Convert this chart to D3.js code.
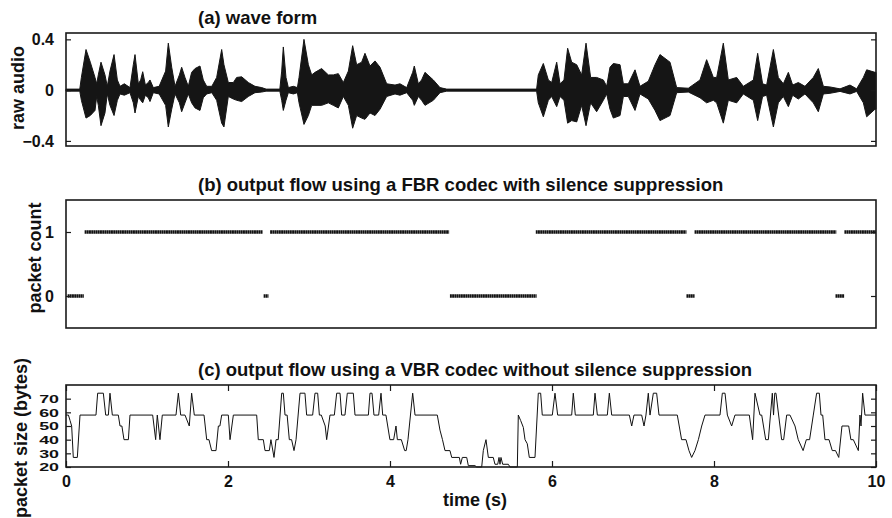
<!DOCTYPE html>
<html>
<head>
<meta charset="utf-8">
<script src="https://cdn.jsdelivr.net/npm/d3@7"></script>
<style>
    body { margin: 0; background: #fff; }
    svg { display: block; font-family: "Liberation Sans", Arial, sans-serif; font-weight: bold; }
</style>
</head>
<body>
<script>
// (a) envelope of the raw audio wave form
const waveTime = [0, 0.17, 0.19, 0.247, 0.30, 0.358, 0.379, 0.399, 0.432, 0.481, 0.51, 0.543, 0.593, 0.634, 0.667, 0.72, 0.79, 0.831, 0.852, 0.893, 0.922, 0.947, 0.98, 1.016, 1.037, 1.078, 1.15, 1.23, 1.263, 1.305, 1.346, 1.40, 1.428, 1.469, 1.51, 1.551, 1.593, 1.654, 1.695, 1.737, 1.80, 1.86, 1.922, 1.95, 2.004, 2.066, 2.107, 2.169, 2.251, 2.333, 2.416, 2.47, 2.64, 2.663, 2.683, 2.716, 2.745, 2.807, 2.857, 2.877, 2.938, 2.992, 3.033, 3.074, 3.156, 3.239, 3.30, 3.362, 3.424, 3.486, 3.539, 3.588, 3.65, 3.691, 3.753, 3.815, 3.877, 3.959, 4.062, 4.123, 4.206, 4.28, 4.30, 4.35, 4.39, 4.432, 4.535, 4.617, 4.70, 5.81, 5.831, 5.893, 5.955, 5.996, 6.058, 6.099, 6.148, 6.193, 6.243, 6.305, 6.366, 6.42, 6.477, 6.551, 6.634, 6.675, 6.716, 6.757, 6.84, 6.881, 6.942, 7.025, 7.086, 7.189, 7.272, 7.333, 7.457, 7.539, 7.683, 7.827, 7.909, 7.992, 8.033, 8.115, 8.177, 8.28, 8.362, 8.486, 8.539, 8.60, 8.65, 8.733, 8.794, 8.856, 8.918, 8.971, 9.041, 9.123, 9.226, 9.288, 9.35, 9.432, 9.556, 9.679, 9.761, 9.844, 9.885, 9.988, 10];
const waveHigh = [0.008, 0.008, 0.10, 0.32, 0.22, 0.10, 0.05, 0.12, 0.22, 0.12, 0.03, 0.15, 0.28, 0.08, 0.03, 0.05, 0.02, 0.20, 0.28, 0.05, 0.08, 0.145, 0.04, 0.06, 0.08, 0.02, 0.03, 0.15, 0.37, 0.18, 0.03, 0.12, 0.18, 0.10, 0.03, 0.14, 0.17, 0.19, 0.08, 0.03, 0.03, 0.10, 0.32, 0.20, 0.06, 0.06, 0.10, 0.105, 0.06, 0.03, 0.02, 0.008, 0.008, 0.15, 0.34, 0.10, 0.02, 0.03, 0.02, 0.10, 0.40, 0.20, 0.12, 0.14, 0.17, 0.12, 0.12, 0.13, 0.06, 0.15, 0.35, 0.20, 0.22, 0.29, 0.19, 0.23, 0.18, 0.05, 0.04, 0.05, 0.02, 0.14, 0.19, 0.05, 0.08, 0.14, 0.08, 0.02, 0.008, 0.008, 0.12, 0.21, 0.08, 0.06, 0.22, 0.05, 0.08, 0.33, 0.22, 0.20, 0.12, 0.37, 0.10, 0.10, 0.08, 0.03, 0.18, 0.21, 0.20, 0.05, 0.05, 0.16, 0.03, 0.07, 0.20, 0.28, 0.22, 0.02, 0.015, 0.08, 0.24, 0.10, 0.10, 0.37, 0.08, 0.10, 0.03, 0.08, 0.29, 0.05, 0.04, 0.32, 0.10, 0.05, 0.14, 0.04, 0.06, 0.03, 0.10, 0.17, 0.03, 0.025, 0.01, 0.04, 0.01, 0.10, 0.16, 0.14, 0.14];
const waveLow = [-0.008, -0.008, -0.08, -0.22, -0.20, -0.16, -0.05, -0.12, -0.28, -0.18, -0.03, -0.12, -0.20, -0.08, -0.03, -0.04, -0.02, -0.10, -0.18, -0.05, -0.08, -0.10, -0.04, -0.06, -0.09, -0.02, -0.03, -0.12, -0.29, -0.15, -0.03, -0.10, -0.17, -0.10, -0.03, -0.10, -0.14, -0.16, -0.06, -0.03, -0.02, -0.08, -0.26, -0.29, -0.05, -0.07, -0.08, -0.09, -0.05, -0.02, -0.015, -0.008, -0.008, -0.08, -0.16, -0.08, -0.02, -0.03, -0.02, -0.10, -0.27, -0.20, -0.12, -0.12, -0.12, -0.10, -0.12, -0.14, -0.05, -0.12, -0.30, -0.20, -0.22, -0.23, -0.18, -0.20, -0.15, -0.05, -0.03, -0.04, -0.02, -0.08, -0.12, -0.05, -0.08, -0.12, -0.08, -0.02, -0.008, -0.008, -0.10, -0.21, -0.08, -0.05, -0.13, -0.05, -0.08, -0.26, -0.24, -0.25, -0.12, -0.28, -0.10, -0.17, -0.08, -0.03, -0.15, -0.22, -0.20, -0.05, -0.05, -0.16, -0.03, -0.07, -0.16, -0.24, -0.20, -0.02, -0.015, -0.06, -0.10, -0.08, -0.10, -0.26, -0.08, -0.10, -0.03, -0.08, -0.24, -0.05, -0.04, -0.29, -0.10, -0.05, -0.13, -0.04, -0.07, -0.03, -0.10, -0.17, -0.03, -0.025, -0.01, -0.03, -0.01, -0.10, -0.21, -0.15, -0.15];

// (b) FBR packet runs: start (s), end (s), packet count
const runStart = [0.02, 0.23, 2.44, 2.52, 4.74, 5.80, 7.66, 7.76, 9.50, 9.61];
const runEnd = [0.22, 2.43, 2.50, 4.73, 5.81, 7.66, 7.76, 9.51, 9.61, 10];
const runCount = [0, 1, 0, 1, 0, 1, 0, 1, 0, 1];

// (c) VBR packet size (bytes) over time
const vbrTime = [0, 0.03, 0.05, 0.07, 0.09, 0.14, 0.173, 0.37, 0.391, 0.461, 0.49, 0.523, 0.543, 0.572, 0.646, 0.667, 0.69, 0.716, 0.77, 0.79, 1.07, 1.107, 1.127, 1.16, 1.189, 1.358, 1.387, 1.416, 1.469, 1.522, 1.551, 1.584, 1.704, 1.737, 1.765, 1.798, 1.852, 1.881, 1.9, 1.922, 2.004, 2.025, 2.066, 2.354, 2.374, 2.436, 2.457, 2.51, 2.53, 2.568, 2.593, 2.62, 2.663, 2.683, 2.704, 2.73, 2.757, 2.785, 2.815, 2.84, 2.889, 2.95, 2.971, 3.045, 3.074, 3.107, 3.128, 3.152, 3.2, 3.218, 3.259, 3.313, 3.342, 3.383, 3.403, 3.444, 3.473, 3.547, 3.568, 3.733, 3.753, 3.778, 3.802, 3.86, 3.889, 3.91, 3.95, 3.999, 4.045, 4.074, 4.091, 4.14, 4.181, 4.2, 4.222, 4.28, 4.309, 4.584, 4.617, 4.648, 4.679, 4.74, 4.762, 4.856, 4.872, 4.893, 4.947, 4.967, 5.049, 5.07, 5.132, 5.152, 5.185, 5.214, 5.275, 5.296, 5.33, 5.346, 5.358, 5.37, 5.391, 5.461, 5.481, 5.572, 5.584, 5.613, 5.646, 5.667, 5.695, 5.72, 5.79, 5.831, 5.86, 5.88, 6.004, 6.037, 6.07, 6.243, 6.263, 6.288, 6.51, 6.531, 6.56, 6.683, 6.708, 6.737, 6.955, 6.984, 7.012, 7.107, 7.136, 7.16, 7.189, 7.21, 7.251, 7.292, 7.321, 7.547, 7.6, 7.654, 7.691, 7.724, 7.765, 7.807, 7.848, 7.889, 8.074, 8.103, 8.136, 8.165, 8.218, 8.259, 8.436, 8.477, 8.506, 8.568, 8.589, 8.638, 8.671, 8.72, 8.735, 8.75, 8.765, 8.835, 8.86, 8.897, 8.938, 9.0, 9.04, 9.1, 9.14, 9.18, 9.226, 9.267, 9.3, 9.321, 9.342, 9.37, 9.42, 9.46, 9.5, 9.54, 9.58, 9.663, 9.69, 9.72, 9.782, 9.802, 9.815, 9.835, 9.864, 10];
const vbrSize = [58, 58, 54, 50, 27, 27, 58, 58, 74, 74, 58, 58, 74, 58, 58, 50, 50, 40, 40, 58, 58, 40, 58, 40, 58, 58, 74, 58, 58, 50, 74, 58, 58, 40, 40, 32, 32, 50, 50, 58, 58, 40, 58, 58, 40, 40, 32, 32, 40, 27, 40, 40, 74, 74, 58, 58, 40, 40, 32, 40, 74, 74, 58, 58, 74, 74, 58, 58, 50, 40, 58, 58, 74, 74, 58, 58, 74, 74, 58, 58, 74, 74, 58, 58, 74, 58, 58, 40, 40, 50, 40, 40, 32, 32, 40, 74, 58, 58, 47, 40, 32, 32, 27, 27, 22, 27, 27, 21, 21, 20, 20, 32, 40, 27, 27, 22, 22, 27, 22, 27, 22, 22, 20, 20, 58, 54, 49, 40, 37, 27, 27, 74, 74, 58, 58, 74, 58, 58, 74, 58, 58, 74, 58, 58, 74, 58, 58, 50, 58, 58, 50, 58, 74, 58, 74, 74, 58, 58, 40, 40, 32, 27, 32, 40, 50, 58, 58, 74, 74, 58, 50, 58, 58, 40, 74, 58, 58, 40, 40, 74, 58, 74, 74, 40, 40, 58, 58, 50, 40, 32, 40, 40, 58, 74, 74, 58, 58, 40, 40, 32, 32, 27, 50, 50, 40, 40, 32, 58, 50, 74, 58, 58];

const timeTicks = [0, 2, 4, 6, 8, 10];
const waveTicks = [-0.4, 0, 0.4];
const countTicks = [0, 1];
const sizeTicks = [20, 30, 40, 50, 60, 70];

(function () {
    const width = 892;
    const height = 518;
    const left = 66;
    const right = 876;

    const svg = d3.select('body')
        .append('svg')
        .attr('width', width)
        .attr('height', height);

    const x = d3.scaleLinear([0, 10], [left, right]);

    // (a) wave form
    const yA = d3.scaleLinear([-0.44, 0.45], [146, 33]);
    const waveData = waveTime.map((t, i) => ({ t, hi: waveHigh[i], lo: waveLow[i] }));
    svg.append('path')
        .datum(waveData)
        .attr('fill', '#151515')
        .attr('stroke', '#151515')
        .attr('stroke-width', 1)
        .attr('d', d3.area().x(d => x(d.t)).y0(d => yA(d.lo)).y1(d => yA(d.hi)));
    yAxes(svg, yA, waveTicks, d3.format('.1~f'), 12, 16, 1);
    frame(svg, yA);
    title(svg, '(a) wave form', 24);
    yLabel(svg, 'raw audio', 18, 88);

    // (b) FBR packets
    const yB = d3.scaleLinear([-0.5, 1.5], [328, 200]);
    const runs = runStart.map((s, i) => ({ s, e: runEnd[i], c: runCount[i] }));
    svg.append('g')
        .selectAll('line')
        .data(runs)
        .join('line')
        .attr('x1', d => x(d.s))
        .attr('x2', d => x(d.e))
        .attr('y1', d => yB(d.c))
        .attr('y2', d => yB(d.c))
        .attr('stroke', '#111')
        .attr('stroke-width', 3.4)
        .attr('stroke-dasharray', '1.9,0.3');
    yAxes(svg, yB, countTicks, d3.format('d'), 12, 16, 1);
    frame(svg, yB);
    title(svg, '(b) output flow using a FBR codec with silence suppression', 191);
    yLabel(svg, 'packet count', 35, 258);

    // (c) VBR packets
    const yC = d3.scaleLinear([20, 80], [467, 385]);
    const vbr = vbrTime.map((t, i) => [t, vbrSize[i]]);
    svg.append('path')
        .datum(vbr)
        .attr('fill', 'none')
        .attr('stroke', '#111')
        .attr('stroke-width', 1)
        .attr('d', d3.line().x(d => x(d[0])).y(d => yC(d[1])));
    // labels are packed tightly here: smaller glyph height, stretched to the same width
    yAxes(svg, yC, sizeTicks, d3.format('d'), 7, 11.5, 1.55);

    svg.append('g')
        .attr('transform', `translate(0,${yC.range()[0]})`)
        .call(d3.axisBottom(x).tickValues(timeTicks).tickSize(-6).tickPadding(9))
        .call(g => styleAxis(g, 16));
    svg.append('g')
        .attr('transform', `translate(0,${yC.range()[1]})`)
        .call(d3.axisTop(x).tickValues(timeTicks).tickSize(-6).tickFormat(''))
        .call(g => styleAxis(g, 16));
    frame(svg, yC);
    title(svg, '(c) output flow using a VBR codec without silence suppression', 376);
    yLabel(svg, 'packet size (bytes)', 21, 438);

    svg.append('text')
        .attr('x', (left + right) / 2 + 4)
        .attr('y', 506)
        .attr('text-anchor', 'middle')
        .style('font-size', '18px')
        .attr('fill', '#111')
        .text('time (s)');

    function frame(svg, y) {
        svg.append('rect')
            .attr('x', left)
            .attr('y', y.range()[1])
            .attr('width', right - left)
            .attr('height', y.range()[0] - y.range()[1])
            .attr('fill', 'none')
            .attr('stroke', '#1a1a1a')
            .attr('stroke-width', 1.6);
    }

    function yAxes(svg, y, ticks, fmt, pad, size, stretch) {
        const g = svg.append('g')
            .attr('transform', `translate(${left},0)`)
            .call(d3.axisLeft(y).tickValues(ticks).tickSize(-5).tickPadding(pad).tickFormat(fmt))
            .call(g => styleAxis(g, size));
        if (stretch !== 1) {
            g.selectAll('text')
                .attr('x', -pad / stretch)
                .attr('transform', `scale(${stretch},1)`);
        }
        svg.append('g')
            .attr('transform', `translate(${right},0)`)
            .call(d3.axisRight(y).tickValues(ticks).tickSize(-5).tickFormat(''))
            .call(g => styleAxis(g, size));
    }

    function styleAxis(g, size) {
        g.select('.domain').remove();
        g.selectAll('line').attr('stroke', '#1a1a1a').attr('stroke-width', 1.2);
        g.selectAll('text')
            .attr('fill', '#111')
            .style('font-family', '"Liberation Sans", Arial, sans-serif')
            .style('font-weight', 'bold')
            .style('font-size', size + 'px');
    }

    function title(svg, text, y) {
        svg.append('text')
            .attr('x', 198)
            .attr('y', y)
            .style('font-size', '18.5px')
            .attr('fill', '#111')
            .text(text);
    }

    function yLabel(svg, text, x, y) {
        svg.append('text')
            .attr('transform', `translate(${x},${y}) rotate(-90)`)
            .attr('text-anchor', 'middle')
            .attr('dy', '0.35em')
            .style('font-size', '18px')
            .attr('fill', '#111')
            .text(text);
    }
})();
</script>
</body>
</html>
